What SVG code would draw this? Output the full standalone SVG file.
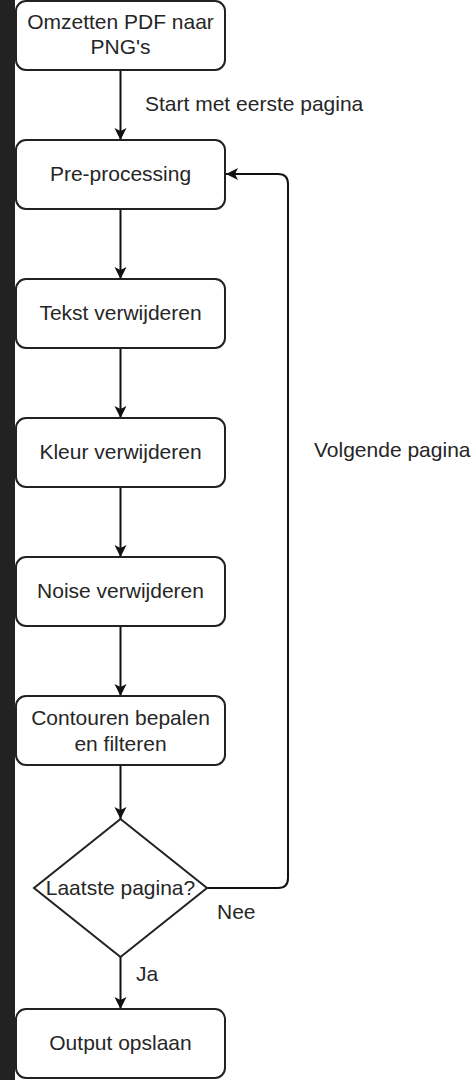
<svg xmlns="http://www.w3.org/2000/svg" width="475" height="1080" viewBox="0 0 475 1080">
<style>
.node rect, .node polygon { fill: #ffffff; stroke: #222222; stroke-width: 2; }
.t { font-family: "Liberation Sans", Arial, sans-serif; font-size: 21px; fill: #262626; text-anchor: middle; }
.lbl { font-family: "Liberation Sans", Arial, sans-serif; font-size: 21px; fill: #262626; }
.edge { fill: none; stroke: #111111; stroke-width: 2; }
</style>
<defs>
<marker id="arr" markerUnits="userSpaceOnUse" markerWidth="14" markerHeight="14" refX="13" refY="7" orient="auto">
<path d="M1,1 L13,7 L1,13 L4,7 Z" fill="#111111"/>
</marker>
</defs>
<rect x="0" y="0" width="475" height="1080" fill="#ffffff"/>
<rect x="0" y="0" width="15" height="1080" fill="#222222"/>
<g id="connectors">
<path class="edge" d="M120.5,70 V140" marker-end="url(#arr)"/>
<path class="edge" d="M120.5,209 V279" marker-end="url(#arr)"/>
<path class="edge" d="M120.5,348 V418" marker-end="url(#arr)"/>
<path class="edge" d="M120.5,487 V557" marker-end="url(#arr)"/>
<path class="edge" d="M120.5,626 V696" marker-end="url(#arr)"/>
<path class="edge" d="M120.5,765 V819" marker-end="url(#arr)"/>
<path class="edge" d="M120.5,957 V1009" marker-end="url(#arr)"/>
<path class="edge" d="M207,888 H278 Q288,888 288,878 V184 Q288,174 278,174 H226" marker-end="url(#arr)"/>
<text class="lbl" x="145" y="111">Start met eerste pagina</text>
<text class="lbl" x="314" y="457">Volgende pagina</text>
<text class="lbl" x="217" y="919">Nee</text>
<text class="lbl" x="136" y="981">Ja</text>
</g>
<g id="n1" class="node"><rect x="16" y="1" width="209" height="69" rx="10"/><text class="t" x="120.5" y="29">Omzetten PDF naar</text><text class="t" x="120.5" y="54">PNG's</text></g>
<g id="n2" class="node"><rect x="16" y="140" width="209" height="69" rx="10"/><text class="t" x="120.5" y="181">Pre-processing</text></g>
<g id="n3" class="node"><rect x="16" y="279" width="209" height="69" rx="10"/><text class="t" x="120.5" y="320">Tekst verwijderen</text></g>
<g id="n4" class="node"><rect x="16" y="418" width="209" height="69" rx="10"/><text class="t" x="120.5" y="459">Kleur verwijderen</text></g>
<g id="n5" class="node"><rect x="16" y="557" width="209" height="69" rx="10"/><text class="t" x="120.5" y="598">Noise verwijderen</text></g>
<g id="n6" class="node"><rect x="16" y="696" width="209" height="69" rx="10"/><text class="t" x="120.5" y="725">Contouren bepalen</text><text class="t" x="120.5" y="751">en filteren</text></g>
<g id="n7" class="node"><polygon points="120.5,819 207,888 120.5,957 34,888"/><text class="t" x="120.5" y="895">Laatste pagina?</text></g>
<g id="n8" class="node"><rect x="16" y="1009" width="209" height="69" rx="10"/><text class="t" x="120.5" y="1050">Output opslaan</text></g>
</svg>
